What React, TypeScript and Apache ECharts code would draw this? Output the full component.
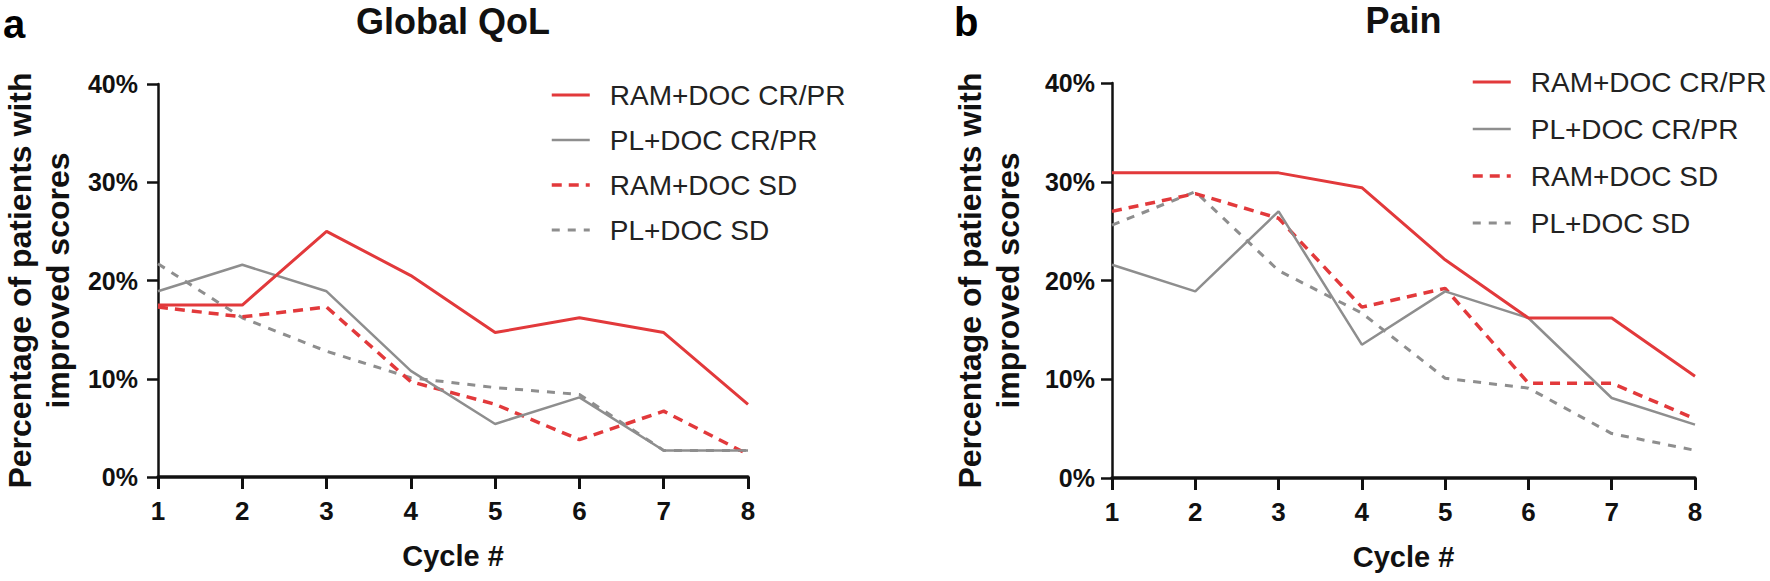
import React, { useEffect, useRef } from "react";
import * as echarts from "echarts";

// ---------- data ----------
const cycles = [1, 2, 3, 4, 5, 6, 7, 8];
const yTicks = [0, 10, 20, 30, 40];
const seriesNames = ["RAM+DOC CR/PR", "PL+DOC CR/PR", "RAM+DOC SD", "PL+DOC SD"];
const panelTitles = ["Global QoL", "Pain"];
const panelLetters = ["a", "b"];
const xAxisTitle = "Cycle #";
const yAxisTitle = "Percentage of patients with\nimproved scores";

// Global QoL (%)
const qolRamCr = [17.5, 17.5, 25.0, 20.5, 14.7, 16.2, 14.7, 7.4];
const qolPlCr = [18.9, 21.6, 18.9, 10.8, 5.4, 8.1, 2.7, 2.7];
const qolRamSd = [17.3, 16.3, 17.3, 9.7, 7.4, 3.8, 6.7, 2.3];
const qolPlSd = [21.7, 16.2, 12.8, 10.1, 9.1, 8.4, 2.7, 2.7];

// Pain (%)
const painRamCr = [30.9, 30.9, 30.9, 29.4, 22.1, 16.2, 16.2, 10.3];
const painPlCr = [21.6, 18.9, 27.0, 13.5, 18.9, 16.2, 8.1, 5.4];
const painRamSd = [27.0, 28.8, 26.3, 17.3, 19.2, 9.6, 9.6, 6.0];
const painPlSd = [25.6, 29.0, 21.0, 16.7, 10.1, 9.1, 4.5, 2.8];

// ---------- styles ----------
const FONT = "Arial, 'Liberation Sans', Helvetica, sans-serif";
const RED = "#e2393b";
const GRAY = "#8e8e8e";
const lineStyles = [
  { color: RED, type: "solid", width: 3 },
  { color: GRAY, type: "solid", width: 2.5 },
  { color: RED, type: [10, 7], width: 3.5 },
  { color: GRAY, type: [8, 8], width: 3 },
];

const grids = [
  { left: 158, top: 84, width: 590, height: 393 },
  { left: 1112, top: 83, width: 583, height: 395 },
];

function pairs(vals: number[]) {
  return cycles.map((c, i) => [c, vals[i]]);
}

export default function App() {
  const ref = useRef<HTMLDivElement>(null);

  useEffect(() => {
    if (!ref.current) return;
    const chart = echarts.init(ref.current, null, { renderer: "svg" });
    const panels = [
      [qolRamCr, qolPlCr, qolRamSd, qolPlSd],
      [painRamCr, painPlCr, painRamSd, painPlSd],
    ];

    const xAxes = grids.map((_, gi) => ({
      type: "value",
      gridIndex: gi,
      min: cycles[0],
      max: cycles[cycles.length - 1],
      interval: 1,
      name: xAxisTitle,
      nameLocation: "middle",
      nameGap: 64,
      nameTextStyle: { fontSize: 29, fontWeight: "bold", fontFamily: FONT, color: "#111" },
      axisLine: { show: true, lineStyle: { color: "#111", width: 3.5 } },
      axisTick: { show: true, length: 12, lineStyle: { color: "#111", width: 3 } },
      axisLabel: { fontSize: 26, fontWeight: "bold", fontFamily: FONT, color: "#111", margin: 21 },
      splitLine: { show: false },
    }));

    const yAxes = grids.map((_, gi) => ({
      type: "value",
      gridIndex: gi,
      min: yTicks[0],
      max: yTicks[yTicks.length - 1],
      interval: yTicks[1] - yTicks[0],
      name: yAxisTitle,
      nameLocation: "middle",
      nameRotate: 90,
      nameGap: gi === 0 ? 81 : 85,
      nameTextStyle: { fontSize: 32, fontWeight: "bold", fontFamily: FONT, color: "#111", lineHeight: 38 },
      axisLine: { show: true, lineStyle: { color: "#111", width: 2.5 } },
      axisTick: { show: true, length: 11, lineStyle: { color: "#111", width: 2.5 } },
      axisLabel: {
        fontSize: 25,
        fontWeight: "bold",
        fontFamily: FONT,
        color: "#111",
        margin: gi === 0 ? 20 : 17,
        formatter: "{value}%",
      },
      splitLine: { show: false },
    }));

    const series: any[] = [];
    panels.forEach((vals, gi) => {
      vals.forEach((v, si) => {
        series.push({
          type: "line",
          name: seriesNames[si],
          xAxisIndex: gi,
          yAxisIndex: gi,
          data: pairs(v),
          symbol: "none",
          lineStyle: lineStyles[si],
          itemStyle: { color: lineStyles[si].color },
          z: 10 - si,
        });
      });
    });

    const legendBase = {
      data: seriesNames,
      orient: "vertical",
      itemWidth: 38,
      itemHeight: 14,
      padding: 0,
      selectedMode: false,
      itemStyle: { opacity: 0 },
      lineStyle: { width: "inherit", type: "inherit" },
      textStyle: {
        fontSize: 28,
        fontFamily: FONT,
        color: "#222",
        lineHeight: 32,
        padding: [0, 0, 0, 15],
      },
    };

    const graphic: any[] = [
      { type: "text", x: 3, y: 24, style: { text: panelLetters[0], font: `bold 40px ${FONT}`, fill: "#000", textAlign: "left", textVerticalAlign: "middle" } },
      { type: "text", x: 954, y: 22, style: { text: panelLetters[1], font: `bold 40px ${FONT}`, fill: "#000", textAlign: "left", textVerticalAlign: "middle" } },
      { type: "text", x: grids[0].left + grids[0].width / 2, y: 21, style: { text: panelTitles[0], font: `bold 36px ${FONT}`, fill: "#111", textAlign: "center", textVerticalAlign: "middle" } },
      { type: "text", x: grids[1].left + grids[1].width / 2, y: 20, style: { text: panelTitles[1], font: `bold 36px ${FONT}`, fill: "#111", textAlign: "center", textVerticalAlign: "middle" } },
    ];

    chart.setOption({
      animation: false,
      backgroundColor: "#fff",
      grid: grids.map((g) => ({ ...g, containLabel: false })),
      xAxis: xAxes,
      yAxis: yAxes,
      legend: [
        { ...legendBase, left: 550, top: 79, itemGap: 13 },
        { ...legendBase, left: 1471, top: 66, itemGap: 15 },
      ],
      graphic,
      series,
    });

    return () => {
      chart.dispose();
    };
  }, []);

  return (
    <div
      ref={ref}
      style={{ position: "fixed", left: 0, top: 0, width: 1770, height: 581, background: "#fff" }}
    />
  );
}
